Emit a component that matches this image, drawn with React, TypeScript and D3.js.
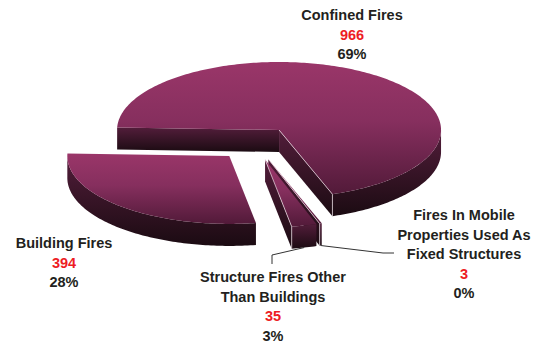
import React from "react";
import * as d3 from "d3";

// ---- data ----
const categories = [
  "Confined Fires",
  "Fires In Mobile Properties Used As Fixed Structures",
  "Structure Fires Other Than Buildings",
  "Building Fires",
];
const values = [966, 3, 35, 394];
const labelLines = [
  ["Confined Fires"],
  ["Fires In Mobile", "Properties Used As", "Fixed Structures"],
  ["Structure Fires Other", "Than Buildings"],
  ["Building Fires"],
];

// ---- layout ----
const W = 542;
const H = 345;
const CX = 255.5;
const CY = 143.4;
const RX = 162;
const RY = 68;
const DEPTH = 22;
const EXPLODE = 0.245;
const START_DEG = -88;
const LINE_H = 19.5;
const labelPos = [
  { x: 352, y: 15 },
  { x: 464, y: 215 },
  { x: 273, y: 277 },
  { x: 64, y: 243 },
];
const leaderElbows: (number[][] | null)[] = [
  null,
  [
    [383, 253],
    [394, 253],
  ],
  [
    [272, 255],
    [272, 264],
  ],
  null,
];

const toRad = Math.PI / 180;

function pt(ox: number, oy: number, a: number, r: number, z: number): [number, number] {
  return [ox + r * RX * Math.sin(a), oy - r * RY * Math.cos(a) + z];
}
function arcPts(ox: number, oy: number, a0: number, a1: number, z: number): [number, number][] {
  const n = Math.max(2, Math.ceil(Math.abs(a1 - a0) / toRad));
  return d3.range(n + 1).map((i) => pt(ox, oy, a0 + ((a1 - a0) * i) / n, 1, z));
}
function frontRanges(a0: number, a1: number): [number, number][] {
  const res: [number, number][] = [];
  for (let k = -1; k <= 1; k++) {
    const lo = Math.PI / 2 + 2 * Math.PI * k;
    const hi = (3 * Math.PI) / 2 + 2 * Math.PI * k;
    const s = Math.max(a0, lo);
    const e = Math.min(a1, hi);
    if (e > s) res.push([s, e]);
  }
  return res;
}

export default function App() {
  const total = d3.sum(values);
  const start = START_DEG * toRad;
  const pie = d3
    .pie<number>()
    .sort(null)
    .value((d) => d)
    .startAngle(start)
    .endAngle(start + 2 * Math.PI);
  const arcs = pie(values);
  const line = d3.line();
  const closed = (p: [number, number][]) => (line(p) || "") + "Z";

  const slices = arcs.map((a, i) => {
    const mid = (a.startAngle + a.endAngle) / 2;
    const ox = CX + EXPLODE * RX * Math.sin(mid);
    const oy = CY - EXPLODE * RY * Math.cos(mid);
    return { i, a0: a.startAngle, a1: a.endAngle, mid, ox, oy };
  });
  const order = [...slices].sort((p, q) => -Math.cos(p.mid) - -Math.cos(q.mid));

  return (
    <svg
      width={W}
      height={H}
      style={{ position: "absolute", left: 0, top: 0, background: "#fff" }}
      fontFamily="'Liberation Sans', Arial, sans-serif"
    >
      <defs>
        <linearGradient id="topGrad" x1="0" y1="0" x2="0" y2="1">
          <stop offset="0" stopColor="#9a3669" />
          <stop offset="0.45" stopColor="#862f5e" />
          <stop offset="1" stopColor="#521a39" />
        </linearGradient>
        <linearGradient id="wallGrad" x1="0" y1="0" x2="0" y2="1">
          <stop offset="0" stopColor="#521d3a" />
          <stop offset="1" stopColor="#1b0b12" />
        </linearGradient>
      </defs>
      {order.map((s) => {
        const { ox, oy, a0, a1 } = s;
        const walls: JSX.Element[] = [];
        const hl: JSX.Element[] = [];
        frontRanges(a0, a1).forEach(([ws, we], k) => {
          const top = arcPts(ox, oy, ws, we, 0);
          const bot = arcPts(ox, oy, we, ws, DEPTH);
          walls.push(<path key={"w" + k} d={closed([...top, ...bot])} fill="url(#wallGrad)" />);
        });
        if (Math.sin(a0) < 0) {
          const c0 = pt(ox, oy, a0, 0, 0);
          const r0 = pt(ox, oy, a0, 1, 0);
          const r1 = pt(ox, oy, a0, 1, DEPTH);
          const c1 = pt(ox, oy, a0, 0, DEPTH);
          walls.push(<path key="rs" d={closed([c0, r0, r1, c1])} fill="url(#wallGrad)" />);
        }
        if (Math.sin(a1) > 0) {
          const c0 = pt(ox, oy, a1, 0, 0);
          const r0 = pt(ox, oy, a1, 1, 0);
          const r1 = pt(ox, oy, a1, 1, DEPTH);
          const c1 = pt(ox, oy, a1, 0, DEPTH);
          walls.push(<path key="re" d={closed([c0, r0, r1, c1])} fill="url(#wallGrad)" />);
          hl.push(
            <path
              key="hl"
              d={line([c0, r0, r1]) || ""}
              fill="none"
              stroke="#f3e4ec"
              strokeWidth={0.8}
              strokeOpacity={0.85}
            />
          );
        }
        const topFace = [pt(ox, oy, a0, 0, 0), ...arcPts(ox, oy, a0, a1, 0)];
        return (
          <g key={s.i}>
            {walls}
            <path d={closed(topFace)} fill="url(#topGrad)" />
            {hl}
          </g>
        );
      })}
      {slices.map((s) => {
        const el = leaderElbows[s.i];
        if (!el) return null;
        const p0 = pt(s.ox, s.oy, s.mid, 1, DEPTH);
        return (
          <path
            key={"ld" + s.i}
            d={line([p0, ...(el as [number, number][])]) || ""}
            fill="none"
            stroke="#333"
            strokeWidth={1}
          />
        );
      })}
      {slices.map((s) => {
        const lp = labelPos[s.i];
        const lines = labelLines[s.i];
        const pct = Math.round((values[s.i] / total) * 100) + "%";
        const rows = [
          ...lines.map((t) => ({ t, c: "#231f20" })),
          { t: String(values[s.i]), c: "#ed1c24" },
          { t: pct, c: "#231f20" },
        ];
        return (
          <g key={"lb" + s.i} aria-label={categories[s.i]}>
            {rows.map((r, k) => (
              <text
                key={k}
                x={lp.x}
                y={lp.y + k * LINE_H + 5.2}
                textAnchor="middle"
                fontWeight="bold"
                fontSize={14.5}
                fill={r.c}
              >
                {r.t}
              </text>
            ))}
          </g>
        );
      })}
    </svg>
  );
}
